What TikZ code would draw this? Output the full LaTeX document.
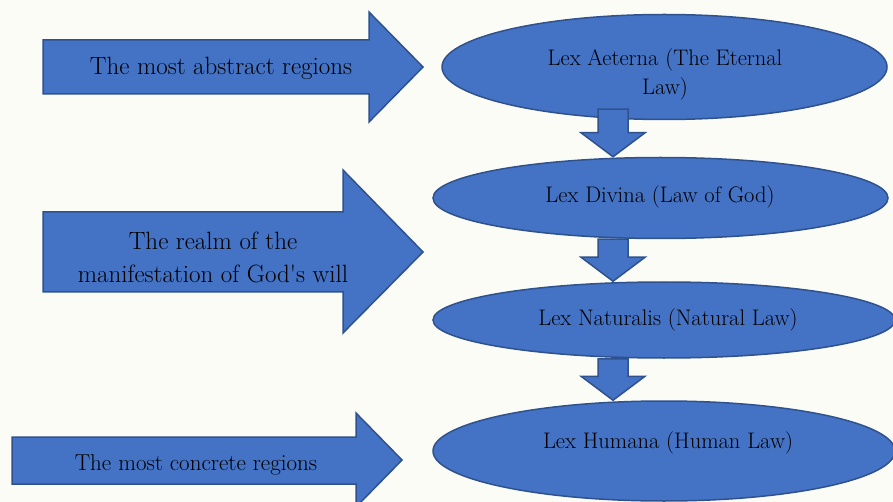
\documentclass[tikz,border=0pt]{standalone}
\usepackage{fontspec}
\usetikzlibrary{shapes.geometric}
\usetikzlibrary{calc}
\definecolor{pagebg}{RGB}{251,252,245}
\definecolor{lawblue}{RGB}{68,114,196}
\definecolor{lawedge}{RGB}{47,82,143}

\begin{document}
\begin{tikzpicture}[x=1pt,y=-1pt,
    lawshape/.style={fill=lawblue, draw=lawedge, line width=1.5pt, line join=miter},
    lawell/.style={lawshape, ellipse, inner sep=0pt},
    lawtext/.style={font=\fontsize{22.5}{29}\selectfont, align=center, text=black},
    sidetext/.style={font=\fontsize{25}{33}\selectfont, align=center, text=black}]

    % Background
    \fill[pagebg] (0,0) rectangle (893,502);
    \useasboundingbox (0,0) rectangle (893,502);

    % Big arrows on the left
    \draw[lawshape] (43,40) -- (369,40) -- (369,12) -- (423,67) -- (369,122) -- (369,94) -- (43,94) -- cycle;
    \draw[lawshape] (43,212) -- (343,212) -- (343,170) -- (423,252) -- (343,333) -- (343,292) -- (43,292) -- cycle;
    \draw[lawshape] (12,437) -- (356,437) -- (356,413) -- (402,460) -- (356,507) -- (356,484) -- (12,484) -- cycle;

    \node[sidetext, anchor=base] (a1) at (221,75) {The most abstract regions};
    \node[sidetext] (a2) at (213,257) {The realm of the\\manifestation of God\textquotesingle s will};
    \node[sidetext, font=\fontsize{23}{29}\selectfont, anchor=base] (a3) at (196,470) {The most concrete regions};

    % Ellipses
    \node[lawell, minimum width=445pt, minimum height=105pt] (e1) at (664.5,67) {};
    \node[lawell, minimum width=455pt, minimum height=81pt] (e2) at (660.5,198) {};
    \node[lawell, minimum width=462pt, minimum height=76pt] (e3) at (664,320) {};
    \node[lawell, minimum width=462pt, minimum height=100pt] (e4) at (664,451) {};

    % Down arrows
    \coordinate (ax) at (613,0);
    \foreach \up/\dn/\lift in {e1/e2/11, e2/e3/0, e3/e4/0} {
        \draw[lawshape] ($(ax |- \up.south)+(-15,-\lift)$) -- ($(ax |- \dn.north)+(-15,-24)$)
            -- ($(ax |- \dn.north)+(-32,-24)$) -- (ax |- \dn.north)
            -- ($(ax |- \dn.north)+(32,-24)$) -- ($(ax |- \dn.north)+(15,-24)$)
            -- ($(ax |- \up.south)+(15,-\lift)$) -- cycle;
    }

    % Labels
    \node[lawtext] (t1) at (665,74) {Lex Aeterna (The Eternal\\Law)};
    \node[lawtext, anchor=base] (t2) at (660,203) {Lex Divina (Law of God)};
    \node[lawtext, anchor=base] (t3) at (668,325) {Lex Naturalis (Natural Law)};
    \node[lawtext, anchor=base] (t4) at (668,448) {Lex Humana (Human Law)};

\end{tikzpicture}
\end{document}
